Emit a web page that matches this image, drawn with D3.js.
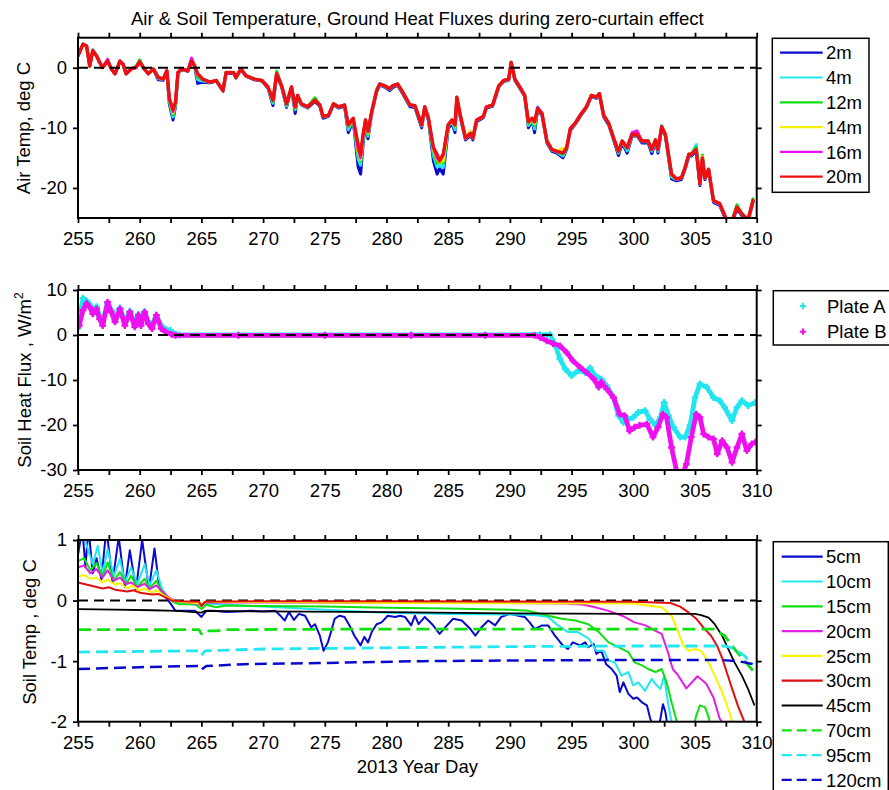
<!DOCTYPE html>
<html><head><meta charset="utf-8">
<script src="https://cdn.jsdelivr.net/npm/d3@7"></script>
<style>
body{margin:0;background:#fff}
svg{display:block}
text{font-family:"Liberation Sans",Arial,Helvetica,sans-serif}
</style>
</head><body>
<svg id="c" width="889" height="790"></svg>
<script>
// ---------------- DATA ----------------
const xTicks = [255,260,265,270,275,280,285,290,295,300,305,310];
const xMinorTicks = [257.5,262.5,267.5,272.5,277.5,282.5,287.5,292.5,297.5,302.5,307.5];
const airTicks = [-20,-10,0];
const fluxTicks = [-30,-20,-10,0,10];
const soilTicks = [-2,-1,0,1];

const airNames = ["2m","4m","12m","14m","16m","20m"];
const airDays = [255.0,255.4,255.7,255.95,256.2,256.5,256.75,257.0,257.4,257.7,
258.0,258.4,258.65,258.9,259.3,259.7,260.0,260.3,260.7,261.1,
261.5,261.9,262.2,262.4,262.7,262.9,263.1,263.4,263.9,264.2,
264.45,264.7,265.1,265.7,266.2,266.75,267.0,267.6,267.8,268.2,
268.6,269.3,269.9,270.4,270.8,271.1,271.5,271.9,272.3,272.6,
272.8,273.1,273.6,274.2,274.6,274.85,275.3,275.7,276.1,276.6,
276.9,277.3,277.7,277.9,278.1,278.3,278.5,278.8,279.2,279.45,
279.85,280.25,280.5,280.9,281.3,281.9,282.3,282.85,283.1,283.4,
283.8,284.1,284.3,284.6,285.0,285.3,285.55,285.7,285.95,286.4,
286.8,287.0,287.3,287.85,288.1,288.6,289.1,289.5,289.9,290.1,
290.4,290.8,291.2,291.5,291.8,292.0,292.25,292.6,293.0,293.4,
293.8,294.3,294.6,294.9,295.3,295.8,296.2,296.6,297.0,297.25,
297.6,298.0,298.4,298.8,299.1,299.5,299.9,300.3,300.7,301.2,
301.5,301.8,302.0,302.3,302.6,303.1,303.5,303.9,304.2,304.5,
304.7,305.1,305.4,305.6,305.8,306.1,306.5,307.0,307.6,308.0,
308.4,308.8,309.3,309.7];
const air2m = [2.0,3.9,3.6,0.3,2.8,2.0,0.9,0.05,1.1,-0.2,
-1.0,1.1,0.6,-1.0,-0.2,0.05,1.0,0.0,-1.0,-0.2,
-2.0,-2.1,-0.6,-6.0,-8.7,-6.5,-0.9,-0.3,-0.6,1.0,
0.2,-2.6,-2.4,-2.5,-2.2,-3.9,-0.9,-0.9,-1.7,-0.3,
-1.4,-2.0,-2.2,-3.4,-6.3,-1.2,-3.2,-6.6,-3.4,-7.6,
-4.8,-6.2,-6.7,-5.6,-6.4,-8.4,-8.1,-6.2,-6.7,-6.4,
-10.8,-8.8,-16.5,-17.7,-12.8,-9.2,-11.8,-7.6,-4.0,-2.9,
-3.2,-3.8,-3.3,-2.9,-4.3,-6.5,-6.6,-10.0,-6.8,-8.8,
-15.5,-17.7,-16.8,-17.7,-10.2,-9.2,-10.8,-5.3,-8.0,-12.0,
-11.3,-12.0,-9.0,-8.3,-6.7,-6.4,-3.2,-2.3,-2.1,0.7,
-2.1,-3.4,-4.8,-10.0,-8.8,-10.8,-7.0,-7.9,-12.5,-13.9,
-14.2,-15.0,-13.6,-10.4,-9.4,-7.8,-6.7,-4.8,-5.1,-4.5,
-8.2,-9.5,-12.0,-14.6,-12.5,-14.2,-11.4,-11.3,-12.5,-12.5,
-14.3,-12.3,-14.2,-10.0,-11.4,-18.5,-18.8,-18.6,-16.9,-14.7,
-14.7,-13.9,-19.6,-15.3,-18.6,-17.2,-22.4,-22.9,-25.8,-25.8,
-23.5,-24.6,-25.6,-22.4];
const air4m = [2.0,3.9,3.6,0.3,2.9,2.0,0.9,0.05,1.2,-0.2,
-1.0,1.1,0.6,-1.0,-0.2,0.2,1.2,0.0,-1.0,-0.2,
-1.8,-2.0,-0.5,-5.6,-8.2,-6.2,-0.8,-0.2,-0.5,1.1,
0.3,-2.0,-2.2,-2.4,-2.1,-3.8,-0.8,-0.8,-1.6,-0.2,
-1.3,-1.9,-2.1,-3.3,-5.9,-0.7,-3.1,-6.4,-3.3,-7.0,
-4.7,-6.1,-6.6,-5.1,-6.3,-8.2,-8.0,-6.1,-6.6,-6.3,
-10.3,-8.6,-15.2,-16.2,-12.2,-9.0,-11.4,-7.4,-3.9,-2.8,
-3.1,-3.6,-3.1,-2.8,-4.1,-6.3,-6.4,-9.7,-6.6,-8.6,
-14.6,-16.5,-16.3,-16.6,-9.8,-8.9,-10.3,-5.1,-7.8,-11.8,
-11.1,-11.8,-8.8,-8.2,-6.6,-6.3,-3.1,-2.2,-2.0,0.8,
-2.0,-3.3,-4.7,-9.6,-8.6,-10.2,-6.5,-7.7,-12.3,-13.7,
-14.0,-14.7,-13.4,-10.2,-9.3,-7.7,-6.6,-4.7,-5.0,-4.4,
-8.0,-9.3,-11.8,-14.2,-12.3,-13.8,-11.2,-11.2,-12.3,-12.3,
-13.9,-12.1,-13.9,-9.6,-11.2,-18.2,-18.6,-18.4,-16.7,-14.5,
-14.5,-12.8,-19.4,-15.1,-18.4,-17.0,-22.2,-22.7,-25.6,-25.6,
-23.0,-24.4,-25.4,-22.2];
const air12m = [2.0,4.0,3.6,0.3,3.0,2.0,0.9,0.05,1.2,-0.2,
-1.0,1.1,0.6,-1.0,-0.2,0.2,1.3,0.0,-1.0,-0.2,
-1.6,-1.9,-0.5,-5.3,-7.8,-6.0,-0.8,-0.2,-0.5,1.4,
0.3,-1.5,-2.0,-2.4,-2.1,-3.8,-0.8,-0.8,-1.6,-0.2,
-1.3,-1.9,-2.1,-3.2,-5.6,-0.6,-3.0,-6.2,-3.2,-6.8,
-4.6,-6.0,-6.5,-5.0,-6.2,-8.1,-7.9,-6.0,-6.5,-6.2,
-9.8,-8.5,-14.5,-15.5,-11.6,-8.8,-11.0,-7.3,-3.8,-2.7,
-3.0,-3.5,-3.0,-2.7,-4.0,-6.2,-6.3,-9.5,-6.5,-8.4,
-14.0,-15.8,-15.8,-15.8,-9.6,-8.7,-9.9,-4.9,-7.6,-11.7,
-10.9,-11.7,-8.7,-8.1,-6.5,-6.2,-3.0,-2.1,-1.9,0.9,
-1.9,-3.2,-4.6,-9.3,-8.4,-9.6,-6.8,-7.6,-12.2,-13.6,
-13.9,-14.4,-13.3,-10.1,-9.2,-7.6,-6.5,-4.6,-4.9,-4.3,
-7.9,-9.2,-11.7,-14.0,-12.2,-13.4,-11.1,-10.8,-12.2,-12.2,
-13.6,-12.0,-13.6,-9.8,-11.1,-17.9,-18.5,-18.3,-16.6,-14.4,
-14.4,-13.2,-19.0,-14.5,-18.0,-16.9,-22.1,-22.6,-25.5,-25.5,
-22.8,-24.3,-25.3,-21.8];
const air14m = [2.0,3.9,3.6,0.3,2.8,2.0,0.9,0.05,1.1,-0.2,
-1.0,1.1,0.6,-1.0,-0.2,0.05,1.0,0.0,-1.0,-0.2,
-1.6,-1.9,-0.5,-5.2,-7.5,-5.8,-0.8,-0.2,-0.5,1.1,
0.3,-1.2,-1.9,-2.4,-2.1,-3.8,-0.8,-0.8,-1.6,-0.2,
-1.3,-1.9,-2.1,-3.2,-5.5,-1.0,-3.0,-6.1,-3.2,-6.6,
-4.6,-6.0,-6.5,-5.4,-6.2,-8.1,-7.9,-6.0,-6.5,-6.2,
-9.6,-8.4,-14.0,-15.3,-11.4,-8.7,-10.8,-7.3,-3.8,-2.7,
-3.0,-3.5,-3.0,-2.7,-4.0,-6.2,-6.3,-9.5,-6.5,-8.4,
-13.6,-15.2,-15.7,-15.5,-9.5,-8.7,-9.7,-4.9,-7.6,-11.7,
-10.5,-11.7,-8.7,-8.1,-6.5,-6.2,-3.0,-2.1,-1.9,0.9,
-1.9,-3.2,-4.6,-9.1,-8.4,-9.3,-6.8,-7.6,-12.2,-13.6,
-13.9,-13.4,-13.3,-10.1,-9.2,-7.6,-6.5,-4.6,-4.9,-4.3,
-7.9,-9.2,-11.7,-13.9,-12.2,-13.3,-11.1,-11.1,-12.2,-12.2,
-13.6,-12.0,-13.6,-9.8,-11.1,-17.8,-18.5,-18.3,-16.6,-14.4,
-14.4,-13.6,-19.2,-14.8,-18.3,-16.9,-22.1,-22.6,-25.5,-25.5,
-23.2,-24.3,-25.3,-22.1];
const air16m = [2.0,3.9,3.6,0.3,2.9,2.0,0.9,0.05,1.4,-0.2,
-1.0,1.1,0.6,-1.0,-0.2,0.05,1.0,0.0,-1.0,-0.2,
-1.6,-1.9,-0.5,-5.1,-7.3,-5.7,-0.8,-0.2,-0.5,1.6,
0.3,-1.1,-1.9,-2.4,-2.1,-3.8,-0.8,-0.8,-1.6,-0.2,
-1.3,-1.9,-2.1,-3.2,-5.4,-1.0,-3.0,-6.0,-3.2,-6.5,
-4.6,-6.0,-6.5,-5.4,-6.2,-8.1,-7.9,-6.0,-6.5,-6.2,
-9.5,-8.4,-13.5,-15.0,-11.2,-8.7,-10.6,-7.3,-3.8,-2.7,
-3.0,-3.5,-3.0,-2.7,-4.0,-6.2,-6.3,-9.5,-6.5,-8.4,
-13.3,-15.0,-15.5,-14.4,-9.5,-8.7,-9.5,-4.9,-7.6,-11.7,
-10.9,-11.7,-8.7,-8.1,-6.5,-6.2,-3.0,-2.1,-1.9,0.9,
-1.9,-3.2,-4.6,-9.0,-8.4,-9.0,-6.6,-7.6,-12.2,-13.6,
-13.9,-14.2,-13.3,-10.1,-9.2,-7.6,-6.5,-4.6,-4.9,-4.3,
-7.9,-9.2,-11.7,-13.9,-12.2,-13.3,-10.8,-10.5,-12.2,-12.2,
-13.6,-12.0,-13.6,-9.8,-11.1,-17.7,-18.5,-18.3,-16.6,-14.4,
-14.4,-13.6,-19.3,-15.0,-18.3,-16.9,-22.1,-22.6,-25.5,-25.5,
-23.2,-24.3,-25.3,-22.1];
const air20m = [2.0,3.9,3.6,0.3,2.8,2.0,0.9,0.05,1.1,-0.2,
-1.0,1.1,0.6,-1.0,-0.2,0.05,1.0,0.0,-1.0,-0.2,
-1.6,-1.9,-0.5,-5.1,-7.0,-5.7,-0.8,-0.2,-0.5,1.1,
0.3,-1.0,-1.9,-2.4,-2.1,-3.8,-0.8,-0.8,-1.6,-0.2,
-1.3,-1.9,-2.1,-3.2,-5.4,-1.0,-3.0,-6.0,-3.2,-6.5,
-4.6,-6.0,-6.5,-5.4,-6.2,-8.1,-7.9,-6.0,-6.5,-6.2,
-9.5,-8.4,-12.8,-14.4,-11.1,-8.7,-10.6,-7.3,-3.8,-2.7,
-3.0,-3.5,-3.0,-2.7,-4.0,-6.2,-6.3,-9.5,-6.5,-8.4,
-13.3,-14.4,-15.5,-14.4,-9.5,-8.7,-9.5,-4.9,-7.6,-11.7,
-10.9,-11.7,-8.7,-8.1,-6.5,-6.2,-3.0,-2.1,-1.9,0.9,
-1.9,-3.2,-4.6,-9.0,-8.4,-9.0,-6.8,-7.6,-12.2,-13.6,
-13.9,-14.2,-13.3,-10.1,-9.2,-7.6,-6.5,-4.6,-4.9,-4.3,
-7.9,-9.2,-11.7,-13.9,-12.2,-13.3,-11.1,-11.1,-12.2,-12.2,
-13.6,-12.0,-13.6,-9.8,-11.1,-17.7,-18.5,-18.3,-16.6,-14.4,
-14.4,-13.6,-19.3,-15.0,-18.3,-16.9,-22.1,-22.6,-25.5,-25.5,
-23.2,-24.3,-25.3,-22.1];

const plateNames = ["Plate A","Plate B"];
const plateADays = [255.0,255.4,255.7,255.95,256.2,256.5,256.75,257.0,257.4,257.7,258.0,258.4,258.8,259.2,259.6,259.9,260.1,260.4,260.7,261.0,261.35,261.75,262.1,262.5,262.9,263.2,268,275,282,288,292.44,293.25,293.65,294.05,294.5,295.0,295.55,296.1,296.5,296.9,297.4,297.85,298.4,298.8,299.2,299.6,300.0,300.4,300.95,301.35,301.8,302.2,302.5,302.85,303.25,303.8,304.2,304.6,305.0,305.4,305.95,306.5,307.0,307.4,308.0,308.4,308.8,309.3,309.9];
const plateA = [1.5,8.2,7.6,6.8,5.2,6.3,4.2,3.0,7.0,5.5,3.4,6.0,2.9,5.3,2.5,4.6,2.8,5.2,3.0,2.2,4.4,2.0,1.3,1.0,0.2,0.0,0.0,0.0,0.0,0.0,0.1,0.1,-2.0,-5.3,-7.6,-9.0,-7.9,-8.3,-7.3,-9.0,-9.8,-11.3,-13.9,-17.9,-19.4,-18.7,-18.3,-17.2,-16.8,-18.7,-20.1,-18.3,-15.0,-17.9,-20.5,-22.7,-22.7,-20.1,-13.9,-10.9,-11.6,-13.9,-14.6,-16.1,-19.0,-16.1,-14.6,-15.7,-15.0];
const plateBDays = [255.1,255.4,255.7,255.95,256.2,256.5,256.75,257.0,257.4,257.7,258.0,258.4,258.8,259.2,259.6,259.9,260.1,260.4,260.7,261.0,261.35,261.75,262.1,262.6,262.9,268,275,282,288,292.0,292.44,293.0,293.5,294.05,294.6,295.1,295.7,296.2,296.8,297.2,297.4,297.85,298.4,298.9,299.3,299.7,300.1,300.5,301.1,301.6,302.0,302.4,302.7,303.1,303.5,303.9,304.3,304.7,305.1,305.4,305.7,306.1,306.5,306.8,307.2,307.6,308.0,308.4,308.8,309.2,309.6,309.9];
const plateB = [2.1,5.5,7.0,6.2,4.7,5.8,3.6,2.1,7.3,5.1,2.9,5.8,2.1,5.1,1.8,4.4,2.1,5.1,2.5,1.4,4.4,1.4,0.7,0.1,-0.1,-0.1,-0.1,-0.1,-0.1,-0.1,-0.5,-1.3,-1.9,-2.4,-3.9,-5.7,-7.2,-8.3,-9.8,-11.6,-10.5,-12.0,-13.9,-17.6,-17.9,-21.3,-20.5,-20.1,-19.8,-22.7,-20.5,-17.6,-18.3,-25.0,-30.1,-31.6,-28.7,-22.7,-17.6,-18.3,-22.0,-22.7,-23.1,-26.4,-23.5,-25.0,-28.3,-25.0,-22.0,-25.7,-24.2,-23.8];

const soilNames = ["5cm","10cm","15cm","20cm","25cm","30cm","45cm","70cm","95cm","120cm"];
const soil5Days = [255.0,255.35,255.6,255.85,256.2,256.5,256.9,257.3,257.8,258.3,258.8,259.2,259.7,260.2,260.75,261.2,261.6,262.0,262.5,262.9,263.5,264.5,265.0,265.4,266.0,267.0,268.0,269.0,270.0,271.0,271.4,271.75,272.1,272.5,272.9,273.4,273.9,274.2,274.6,274.9,275.25,275.5,275.8,276.2,276.6,277.0,277.4,277.9,278.2,278.5,278.8,279.2,279.6,280.1,280.7,281.1,281.5,282.0,282.3,282.6,283.1,283.7,284.3,284.9,285.4,286.1,286.8,287.2,287.7,288.25,288.8,289.3,290.0,290.7,291.2,291.6,292.0,292.6,293.1,293.65,294.2,294.7,295.1,295.7,296.1,296.35,296.8,297.0,297.4,297.8,298.25,298.65,298.9,299.2,299.6,300.0,300.3,300.7,301.1,301.35,301.6,302.0,302.2,302.4,302.6,302.8,303.0];
const soil5 = [0.75,1.2,0.55,1.2,0.45,0.7,0.35,1.2,0.3,1.05,0.22,0.83,0.19,1.0,0.19,0.86,0.2,0.08,-0.05,-0.17,-0.17,-0.17,-0.27,-0.17,-0.17,-0.19,-0.18,-0.17,-0.18,-0.17,-0.25,-0.33,-0.19,-0.32,-0.22,-0.25,-0.44,-0.39,-0.58,-0.83,-0.69,-0.52,-0.3,-0.25,-0.27,-0.41,-0.58,-0.74,-0.6,-0.69,-0.52,-0.39,-0.36,-0.25,-0.27,-0.25,-0.27,-0.41,-0.25,-0.39,-0.27,-0.39,-0.55,-0.41,-0.3,-0.33,-0.47,-0.58,-0.44,-0.33,-0.41,-0.27,-0.22,-0.25,-0.27,-0.36,-0.47,-0.41,-0.41,-0.58,-0.72,-0.8,-0.69,-0.74,-0.69,-0.77,-0.72,-0.88,-0.83,-1.05,-1.13,-1.24,-1.51,-1.35,-1.54,-1.62,-1.6,-1.68,-1.73,-1.93,-2.1,-2.1,-1.95,-1.71,-1.84,-2.1,-2.2];
const soil10Days = [255.0,255.4,255.8,256.2,256.6,257.0,257.4,257.9,258.4,258.8,259.3,259.8,260.4,260.8,261.35,261.8,262.2,262.6,263.0,265.0,265.3,270.0,275.0,280.0,285.0,290.0,292.0,293.1,293.9,294.7,295.5,296.4,297.0,297.6,298.0,298.5,299.06,299.6,300.0,300.4,300.95,301.5,301.8,302.2,302.5,302.8,303.1,303.3];
const soil10 = [1.05,1.1,0.85,0.6,0.9,0.45,0.85,0.4,0.69,0.3,0.55,0.27,0.6,0.25,0.5,0.2,0.07,0.0,-0.03,-0.08,-0.05,-0.1,-0.15,-0.2,-0.22,-0.23,-0.24,-0.27,-0.41,-0.52,-0.52,-0.63,-0.83,-0.83,-0.99,-1.02,-1.24,-1.18,-1.4,-1.35,-1.49,-1.29,-1.38,-1.46,-1.24,-1.68,-2.0,-2.2];
const soil15Days = [255.0,255.5,256.0,256.5,257.0,257.4,257.9,258.4,258.9,259.3,259.8,260.4,260.8,261.35,261.8,262.3,262.7,263.2,264.5,265.0,265.4,266.2,267.0,270.0,275.0,280.0,285.0,290.0,291.5,293.1,294.2,295.3,296.35,297.2,298.0,298.8,299.6,300.1,300.7,301.2,301.8,302.3,302.7,303.1,303.5,303.9,304.8,305.1,305.4,305.8,306.1,306.4];
const soil15 = [0.65,0.7,0.5,0.62,0.4,0.63,0.33,0.47,0.27,0.41,0.22,0.36,0.2,0.33,0.15,0.04,-0.02,-0.06,-0.06,-0.14,-0.07,-0.11,-0.08,-0.09,-0.1,-0.12,-0.13,-0.15,-0.17,-0.25,-0.3,-0.33,-0.39,-0.52,-0.69,-0.77,-0.85,-1.02,-1.07,-1.13,-1.18,-1.13,-1.35,-1.68,-1.98,-2.2,-2.15,-1.9,-1.73,-1.76,-1.92,-2.2];
const soil20Days = [255.0,255.5,256.0,256.5,257.0,257.4,257.9,258.4,258.9,259.3,259.8,260.4,260.8,261.35,261.8,262.3,262.8,263.3,265.0,265.4,270.0,280.0,290.0,294.5,296.0,296.9,298.0,299.1,300.1,301.0,301.8,302.3,302.8,303.2,303.65,304.3,305.2,305.9,306.5,307.0,307.5];
const soil20 = [0.55,0.58,0.45,0.52,0.38,0.5,0.33,0.38,0.27,0.3,0.22,0.28,0.19,0.25,0.16,0.06,0.0,-0.02,-0.06,-0.03,-0.03,-0.04,-0.04,-0.05,-0.07,-0.11,-0.17,-0.25,-0.36,-0.41,-0.5,-0.55,-0.85,-1.13,-1.24,-1.45,-1.25,-1.37,-1.6,-1.95,-2.1];
const soil25Days = [255.0,255.5,256.0,256.5,257.0,257.4,258.0,258.4,259.0,259.4,260.0,260.4,261.0,261.4,262.0,262.7,263.3,265.0,265.4,280.0,300.0,302.3,303.1,303.65,304.05,304.5,305.0,305.5,306.1,306.6,307.2,307.7,308.1];
const soil25 = [0.4,0.42,0.36,0.38,0.3,0.35,0.26,0.29,0.2,0.25,0.16,0.2,0.13,0.17,0.08,0.0,-0.02,-0.05,-0.02,-0.04,-0.05,-0.11,-0.25,-0.52,-0.74,-0.83,-0.8,-0.83,-1.02,-1.24,-1.51,-1.79,-2.05];
const soil30Days = [255.0,256.0,257.0,257.5,258.0,259.0,259.5,260.0,261.0,261.5,262.0,262.6,263.3,264.8,265.0,265.3,270.0,280.0,300.0,303.0,303.8,304.5,305.1,305.7,306.3,306.8,307.2,307.6,308.0,308.5,309.0,309.2];
const soil30 = [0.3,0.25,0.2,0.22,0.18,0.15,0.17,0.13,0.1,0.11,0.06,0.0,-0.01,-0.02,-0.09,-0.02,-0.01,-0.01,-0.02,-0.04,-0.1,-0.2,-0.3,-0.45,-0.58,-0.75,-0.95,-1.2,-1.45,-1.75,-2.0,-2.1];
const soil45Days = [255.0,258.0,261.0,263.0,265.0,265.3,270.0,280.0,290.0,300.0,305.0,305.5,306.1,306.6,307.2,307.7,308.2,308.8,309.3,309.8];
const soil45 = [-0.14,-0.15,-0.16,-0.17,-0.2,-0.17,-0.18,-0.19,-0.21,-0.22,-0.22,-0.24,-0.28,-0.39,-0.58,-0.8,-1.02,-1.24,-1.46,-1.72];
const soil70Days = [255.0,260.0,264.8,265.0,265.3,266.2,267.0,280.0,300.0,306.5,307.4,308.2,309.0,309.7];
const soil70 = [-0.48,-0.48,-0.48,-0.55,-0.5,-0.5,-0.48,-0.47,-0.47,-0.47,-0.58,-0.8,-0.99,-1.16];
const soil95Days = [255.0,260.0,264.8,265.0,265.3,270.0,280.0,290.0,300.0,307.5,308.2,309.0,309.7];
const soil95 = [-0.85,-0.84,-0.83,-0.9,-0.83,-0.8,-0.78,-0.76,-0.75,-0.75,-0.8,-0.91,-1.05];
const soil120Days = [255.0,260.0,264.8,265.0,265.4,268.5,275.0,283.0,290.0,300.0,307.0,308.5,309.7];
const soil120 = [-1.13,-1.1,-1.08,-1.14,-1.08,-1.05,-1.03,-1.0,-0.99,-0.98,-0.98,-1.0,-1.05];

// ---------------- DRAWING ----------------
const FONT = '"Liberation Sans",Arial,Helvetica,sans-serif';
const svg = d3.select("#c");
svg.append("rect").attr("width",889).attr("height",790).attr("fill","#fff");
const X0 = 78, X1 = 756.7;
const x = d3.scaleLinear().domain([255,310]).range([X0,X1]);
const fmt = d => String(d);

function makePanel(top,bottom,dom,id){
  const y = d3.scaleLinear().domain(dom).range([bottom,top]);
  svg.append("clipPath").attr("id",id).append("rect")
    .attr("x",X0).attr("y",top).attr("width",X1-X0).attr("height",bottom-top);
  const g = svg.append("g");
  const plot = g.append("g").attr("clip-path",`url(#${id})`);
  return {y,g,plot,top,bottom};
}
function styleAxis(sel){
  sel.attr("font-size",18.5).attr("font-family",FONT);
  sel.select(".domain").remove();
  sel.selectAll(".tick line").attr("stroke","#000").attr("stroke-width",1.8);
  sel.selectAll(".tick text").attr("fill","#000");
}
function drawAxes(p, yt, showX){
  styleAxis(p.g.append("g").attr("transform",`translate(0,${p.bottom})`)
    .call(d3.axisBottom(x).tickValues(xTicks).tickSize(5).tickPadding(9).tickFormat(showX?fmt:()=>"").tickSizeOuter(0)));
  styleAxis(p.g.append("g").attr("transform",`translate(0,${p.bottom})`)
    .call(d3.axisBottom(x).tickValues(xMinorTicks).tickSize(5).tickFormat(()=>"").tickSizeOuter(0)));
  styleAxis(p.g.append("g").attr("transform",`translate(0,${p.top})`)
    .call(d3.axisTop(x).tickValues(xTicks.concat(xMinorTicks)).tickSize(5).tickFormat(()=>"").tickSizeOuter(0)));
  styleAxis(p.g.append("g").attr("transform",`translate(${X0},0)`)
    .call(d3.axisLeft(p.y).tickValues(yt).tickSize(5).tickPadding(6).tickFormat(fmt).tickSizeOuter(0)));
  styleAxis(p.g.append("g").attr("transform",`translate(${X1},0)`)
    .call(d3.axisRight(p.y).tickValues(yt).tickSize(5).tickFormat(()=>"").tickSizeOuter(0)));
  p.g.append("rect").attr("x",X0).attr("y",p.top).attr("width",X1-X0).attr("height",p.bottom-p.top)
    .attr("fill","none").attr("stroke","#000").attr("stroke-width",2);
}
function zeroLine(p){
  p.plot.append("line").attr("x1",X0).attr("x2",X1).attr("y1",p.y(0)).attr("y2",p.y(0))
    .attr("stroke","#000").attr("stroke-width",2).attr("stroke-dasharray","10,6");
}
function drawLine(p, days, vals, color, width, dash){
  const line = d3.line().x((d,i)=>x(days[i])).y(d=>p.y(d));
  const path = p.plot.append("path").datum(vals).attr("d",line)
    .attr("fill","none").attr("stroke",color).attr("stroke-width",width)
    .attr("stroke-linejoin","round").attr("stroke-linecap","round");
  if(dash) path.attr("stroke-dasharray",dash).attr("stroke-linecap","butt");
}

// Title
svg.append("text").attr("x",(X0+X1)/2).attr("y",25).attr("text-anchor","middle")
  .attr("font-size",18.6).attr("font-family",FONT).text("Air & Soil Temperature, Ground Heat Fluxes during zero-curtain effect");

// ---- Panel 1 ----
const p1 = makePanel(37.7,218,[-25,5],"clip1");
const airColors = ["#0a0acc","#22e6f0","#10e010","#f2f200","#f010f0","#ee1010"];
const airSeries = [air2m,air4m,air12m,air14m,air16m,air20m];
airSeries.forEach((s,i)=>drawLine(p1,airDays,s,airColors[i],i===5?3.4:3));
zeroLine(p1);
drawAxes(p1,airTicks,true);
svg.append("text").attr("transform","translate(30,128) rotate(-90)").attr("text-anchor","middle")
  .attr("font-size",18.5).attr("font-family",FONT).text("Air Temp, deg C");

// Legend 1
const lg1 = svg.append("g");
lg1.append("rect").attr("x",772.3).attr("y",38.3).attr("width",96.7).attr("height",154)
  .attr("fill","#fff").attr("stroke","#000").attr("stroke-width",1.5);
airNames.forEach((n,i)=>{
  const yy = 52.7 + i*24.8;
  lg1.append("line").attr("x1",780).attr("x2",822.7).attr("y1",yy).attr("y2",yy)
    .attr("stroke",airColors[i]).attr("stroke-width",2.2);
  lg1.append("text").attr("x",826).attr("y",yy).attr("dy","0.36em").attr("font-size",18.5)
    .attr("font-family",FONT).text(n);
});

// ---- Panel 2 ----
const p2 = makePanel(290,470,[-30,10],"clip2");
const plateColors = ["#22e6ee","#ee10ee"];
[[plateADays,plateA],[plateBDays,plateB]].forEach(([dd,vv],k)=>{
  drawLine(p2,dd,vv,plateColors[k],4.8);
  p2.plot.append("g").selectAll("path").data(vv).join("path")
    .attr("transform",(d,i)=>`translate(${x(dd[i])},${p2.y(d)})`)
    .attr("d",d3.symbol(d3.symbolCross,26)).attr("fill",plateColors[k]);
});
zeroLine(p2);
drawAxes(p2,fluxTicks,true);
const yl2 = svg.append("text").attr("transform","translate(31,380) rotate(-90)").attr("text-anchor","middle")
  .attr("font-size",18.5).attr("font-family",FONT);
yl2.append("tspan").text("Soil Heat Flux , W/m");
yl2.append("tspan").attr("dy",-8).attr("font-size",12).text("2");

// Legend 2
const lg2 = svg.append("g");
lg2.append("rect").attr("x",773.3).attr("y",290.7).attr("width",140).attr("height",54.3)
  .attr("fill","#fff").attr("stroke","#000").attr("stroke-width",1.5);
plateNames.forEach((n,i)=>{
  const yy = 306 + i*25.7;
  lg2.append("path").attr("transform",`translate(803,${yy})`).attr("d",d3.symbol(d3.symbolCross,22))
    .attr("fill",plateColors[i]);
  lg2.append("text").attr("x",827).attr("y",yy).attr("dy","0.36em").attr("font-size",18.5)
    .attr("font-family",FONT).text(n);
});

// ---- Panel 3 ----
const p3 = makePanel(540,721.7,[-2,1],"clip3");
const soilColors = ["#0a0acc","#22e6f0","#10e010","#e020e0","#f5f500","#e01010","#000000","#10e010","#22e6f0","#0a0acc"];
const soilDash = [null,null,null,null,null,null,null,"13,6","12,6","12,6"];
const soilWidth = [2,2,2,2,2,2,1.8,2.8,2.8,2.5];
const soilSeries = [[soil5Days,soil5],[soil10Days,soil10],[soil15Days,soil15],[soil20Days,soil20],[soil25Days,soil25],
  [soil30Days,soil30],[soil45Days,soil45],[soil70Days,soil70],[soil95Days,soil95],[soil120Days,soil120]];
zeroLine(p3);
soilSeries.forEach(([dd,vv],i)=>drawLine(p3,dd,vv,soilColors[i],soilWidth[i],soilDash[i]));
drawAxes(p3,soilTicks,true);
svg.append("text").attr("transform","translate(36,632) rotate(-90)").attr("text-anchor","middle")
  .attr("font-size",18.5).attr("font-family",FONT).text("Soil Temp , deg C");
svg.append("text").attr("x",(X0+X1)/2).attr("y",773).attr("text-anchor","middle")
  .attr("font-size",18.5).attr("font-family",FONT).text("2013 Year Day");

// Legend 3
const lg3 = svg.append("g");
lg3.append("rect").attr("x",773.3).attr("y",541.7).attr("width",115).attr("height",270)
  .attr("fill","#fff").attr("stroke","#000").attr("stroke-width",1.5);
soilNames.forEach((n,i)=>{
  const yy = 556.7 + i*24.8;
  const ln = lg3.append("line").attr("x1",781.7).attr("x2",822.7).attr("y1",yy).attr("y2",yy)
    .attr("stroke",soilColors[i]).attr("stroke-width",2.2);
  if(soilDash[i]) ln.attr("stroke-dasharray","10,5");
  lg3.append("text").attr("x",826).attr("y",yy).attr("dy","0.36em").attr("font-size",18.5)
    .attr("font-family",FONT).text(n);
});
</script>
</body></html>
